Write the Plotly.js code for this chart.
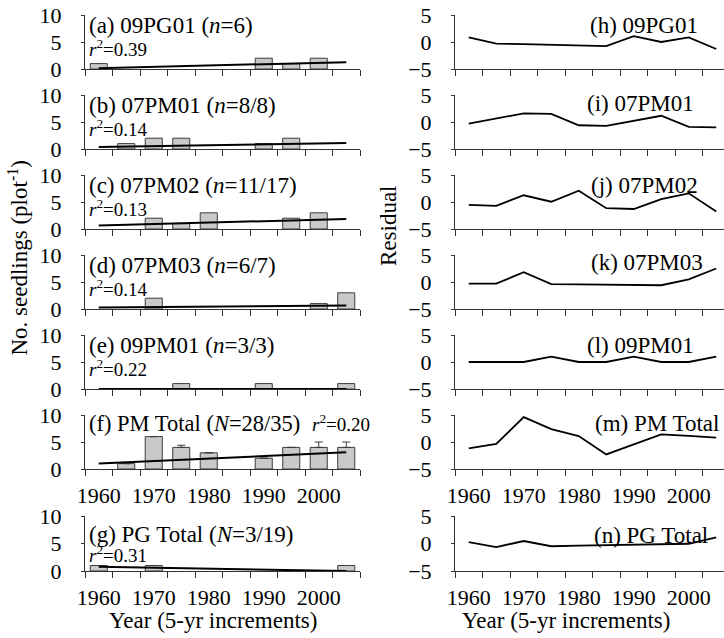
<!DOCTYPE html>
<html>
<head>
<meta charset="utf-8">
<script src="https://cdn.plot.ly/plotly-3.0.1.min.js"></script>
<style>html,body{margin:0;padding:0;background:#fff;}#chart{width:724px;height:638px;}</style>
</head>
<body>
<div id="chart"></div>
<script>
// ---------- data ----------
const years = [1960, 1965, 1970, 1975, 1980, 1985, 1990, 1995, 2000, 2005];
const tickYears = [1960, 1970, 1980, 1990, 2000];
const tickLabels = ['1960', '1970', '1980', '1990', '2000'];

const seedlings09PG01 = [1, 0, 0, 0, 0, 0, 2, 1, 2, 0];
const seedlings07PM01 = [0, 1, 2, 2, 0, 0, 1, 2, 0, 0];
const seedlings07PM02 = [0, 0, 2, 1, 3, 0, 0, 2, 3, 0];
const seedlings07PM03 = [0, 0, 2, 0, 0, 0, 0, 0, 1, 3];
const seedlings09PM01 = [0, 0, 0, 1, 0, 0, 1, 0, 0, 1];
const seedlingsPMTotal = [0, 1, 6, 4, 3, 0, 2, 4, 4, 4];
const errorPMTotal = [0, 0, 0, 0.4, 0, 0, 0, 0, 1, 1];
const seedlingsPGTotal = [1, 0, 1, 0, 0, 0, 0, 0, 0, 1];

// fitted regression values at first and last year
const fitYears = [1960, 2005];
const fit09PG01 = [0.15, 1.27];
const fit07PM01 = [0.35, 1.1];
const fit07PM02 = [0.65, 1.85];
const fit07PM03 = [0.3, 0.65];
const fit09PM01 = [0.0, 0.0];
const fitPMTotal = [1.0, 3.1];
const fitPGTotal = [0.75, 0.0];

const resid09PG01 = [0.85, -0.3, -0.4, -0.5, -0.65, -0.75, 1.1, 0.0, 0.85, -1.3];
const resid07PM01 = [-0.3, 0.6, 1.6, 1.5, -0.6, -0.7, 0.25, 1.15, -0.9, -1.0];
const resid07PM02 = [-0.55, -0.7, 1.25, 0.05, 2.1, -1.15, -1.3, 0.55, 1.6, -1.75];
const resid07PM03 = [-0.3, -0.3, 1.8, -0.4, -0.45, -0.5, -0.55, -0.6, 0.5, 2.5];
const resid09PM01 = [0, 0, 0, 1, 0, 0, 1, 0, 0, 1];
const residPMTotal = [-1.2, -0.35, 4.6, 2.4, 1.1, -2.3, -0.45, 1.4, 1.15, 0.8];
const residPGTotal = [0.25, -0.65, 0.45, -0.5, -0.4, -0.3, -0.2, -0.15, -0.05, 1.1];

const leftLabels = [
  '(a) 09PG01 (<i>n</i>=6)', '(b) 07PM01 (<i>n</i>=8/8)', '(c) 07PM02 (<i>n</i>=11/17)',
  '(d) 07PM03 (<i>n</i>=6/7)', '(e) 09PM01 (<i>n</i>=3/3)', '(f) PM Total (<i>N</i>=28/35)',
  '(g) PG Total (<i>N</i>=3/19)'];
const r2Values = ['0.39', '0.14', '0.13', '0.14', '0.22', '0.20', '0.31'];
const rightLabels = ['(h) 09PG01', '(i) 07PM01', '(j) 07PM02', '(k) 07PM03', '(l) 09PM01', '(m) PM Total', '(n) PG Total'];

const counts = [seedlings09PG01, seedlings07PM01, seedlings07PM02, seedlings07PM03, seedlings09PM01, seedlingsPMTotal, seedlingsPGTotal];
const fits = [fit09PG01, fit07PM01, fit07PM02, fit07PM03, fit09PM01, fitPMTotal, fitPGTotal];
const resids = [resid09PG01, resid07PM01, resid07PM02, resid07PM03, resid09PM01, residPMTotal, residPGTotal];

// ---------- layout geometry (pixels) ----------
const W = 724, H = 638;
const px = v => v / W;
const py = v => 1 - v / H;
const rowTop = [15, 95, 175, 255, 335, 415, 516];
const rowH = [54, 54, 54, 54, 54, 54, 55];
const labelDy = [10, 10, 10, 10, 10, 8, 18];
const labelSize = [23, 23, 23, 23, 23, 22.5, 23];
const r2Dy = [33, 33, 33, 33, 33, 8, 38];
const r2X = [88, 88, 88, 88, 88, 311, 88];
const rightLabelDy = [10, 8, 10, 7, 10, 8, 19];
const rightLabelX = [699, 695, 699, 704, 695, 720, 709];

const FONT = 'Liberation Serif';
const AX = '#333';

const traces = [];
const layout = {
  width: W, height: H,
  margin: {l: 0, r: 0, t: 0, b: 0},
  paper_bgcolor: '#fff', plot_bgcolor: 'rgba(0,0,0,0)',
  showlegend: false,
  font: {family: FONT, size: 22, color: '#000'},
  annotations: []
};

function xAxis(domain, rangeMax, anchor, showLabels) {
  return {
    domain: domain, range: [1957.5, rangeMax], anchor: anchor,
    tickmode: 'array', tickvals: tickYears, ticktext: tickLabels,
    ticks: 'outside', ticklen: 0, tickwidth: 0, tickcolor: 'rgba(0,0,0,0)',
    ticklabelstandoff: 7,
    showticklabels: showLabels,
    tickfont: {family: FONT, size: 22, color: '#000'},
    minor: {tickmode: 'linear', tick0: 1957.5, dtick: 5, ticks: 'outside', ticklen: 6, tickwidth: 1, tickcolor: AX, showgrid: false},
    showline: true, linecolor: AX, linewidth: 1,
    showgrid: false, zeroline: false, fixedrange: true
  };
}
function yAxis(domain, range, vals, anchor) {
  return {
    domain: domain, range: range, anchor: anchor,
    tickmode: 'array', tickvals: vals,
    ticks: 'outside', ticklen: 3, tickwidth: 1, tickcolor: AX,
    ticklabelstandoff: 15,
    tickfont: {family: FONT, size: 22, color: '#000'},
    showline: true, linecolor: AX, linewidth: 1,
    showgrid: false, zeroline: false, fixedrange: true
  };
}

for (let r = 0; r < 7; r++) {
  const yd = [py(rowTop[r] + rowH[r]), py(rowTop[r])];
  const li = r + 1, ri = r + 8;
  const lx = li === 1 ? 'x' : 'x' + li, ly = li === 1 ? 'y' : 'y' + li;
  const rx = 'x' + ri, ry = 'y' + ri;
  const showX = r >= 5;

  layout[li === 1 ? 'xaxis' : 'xaxis' + li] = xAxis([px(85), px(360)], 2007.5, ly, showX);
  layout[li === 1 ? 'yaxis' : 'yaxis' + li] = yAxis(yd, [0, 10], [0, 5, 10], lx);
  layout['xaxis' + ri] = xAxis([px(455), 1], 1957.5 + (724 - 455) / 27.5 * 5, ry, showX);
  layout['yaxis' + ri] = yAxis(yd, [-5, 5], [-5, 0, 5], rx);

  const bar = {
    type: 'bar', x: years, y: counts[r].map(v => v === 0 ? null : v),
    xaxis: lx, yaxis: ly, width: 3.1,
    marker: {color: '#c9c9c9', line: {color: '#3c3c3c', width: 1}},
    hoverinfo: 'skip'
  };
  if (r === 5) {
    bar.error_y = {type: 'data', symmetric: false, array: errorPMTotal, arrayminus: years.map(() => 0),
      visible: true, color: '#3c3c3c', thickness: 1, width: 4};
  }
  traces.push(bar);
  traces.push({type: 'scatter', mode: 'lines', x: fitYears, y: fits[r], xaxis: lx, yaxis: ly,
    line: {color: '#000', width: 2}, hoverinfo: 'skip'});
  traces.push({type: 'scatter', mode: 'lines', x: years, y: resids[r], xaxis: rx, yaxis: ry,
    line: {color: '#000', width: 1.8}, hoverinfo: 'skip'});

  layout.annotations.push({xref: 'paper', yref: 'paper', x: px(88), y: py(rowTop[r] + labelDy[r]),
    xanchor: 'left', yanchor: 'middle', text: leftLabels[r], showarrow: false,
    font: {family: FONT, size: labelSize[r], color: '#000'}, borderpad: 0});
  layout.annotations.push({xref: 'paper', yref: 'paper', x: px(r2X[r]), y: py(rowTop[r] + r2Dy[r]),
    xanchor: 'left', yanchor: 'middle', text: '<i>r</i><sup>2</sup>=' + r2Values[r], showarrow: false,
    font: {family: FONT, size: 19, color: '#000'}, borderpad: 0});
  layout.annotations.push({xref: 'paper', yref: 'paper', x: px(rightLabelX[r]), y: py(rowTop[r] + rightLabelDy[r]),
    xanchor: 'right', yanchor: 'middle', text: rightLabels[r], showarrow: false,
    font: {family: FONT, size: 23, color: '#000'}, borderpad: 0});
}

// axis titles
layout.annotations.push({xref: 'paper', yref: 'paper', x: px(17.5), y: py(258), xanchor: 'center', yanchor: 'middle',
  textangle: -90, text: 'No. seedlings (plot<sup>-1</sup>)', showarrow: false, font: {family: FONT, size: 23, color: '#000'}});
layout.annotations.push({xref: 'paper', yref: 'paper', x: px(389), y: py(226), xanchor: 'center', yanchor: 'middle',
  textangle: -90, text: 'Residual', showarrow: false, font: {family: FONT, size: 23, color: '#000'}});
layout.annotations.push({xref: 'paper', yref: 'paper', x: px(213), y: py(620), xanchor: 'center', yanchor: 'middle',
  text: 'Year (5-yr increments)', showarrow: false, font: {family: FONT, size: 23, color: '#000'}});
layout.annotations.push({xref: 'paper', yref: 'paper', x: px(566), y: py(620), xanchor: 'center', yanchor: 'middle',
  text: 'Year (5-yr increments)', showarrow: false, font: {family: FONT, size: 23, color: '#000'}});

Plotly.newPlot('chart', traces, layout, {staticPlot: true, displayModeBar: false});
</script>
</body>
</html>
